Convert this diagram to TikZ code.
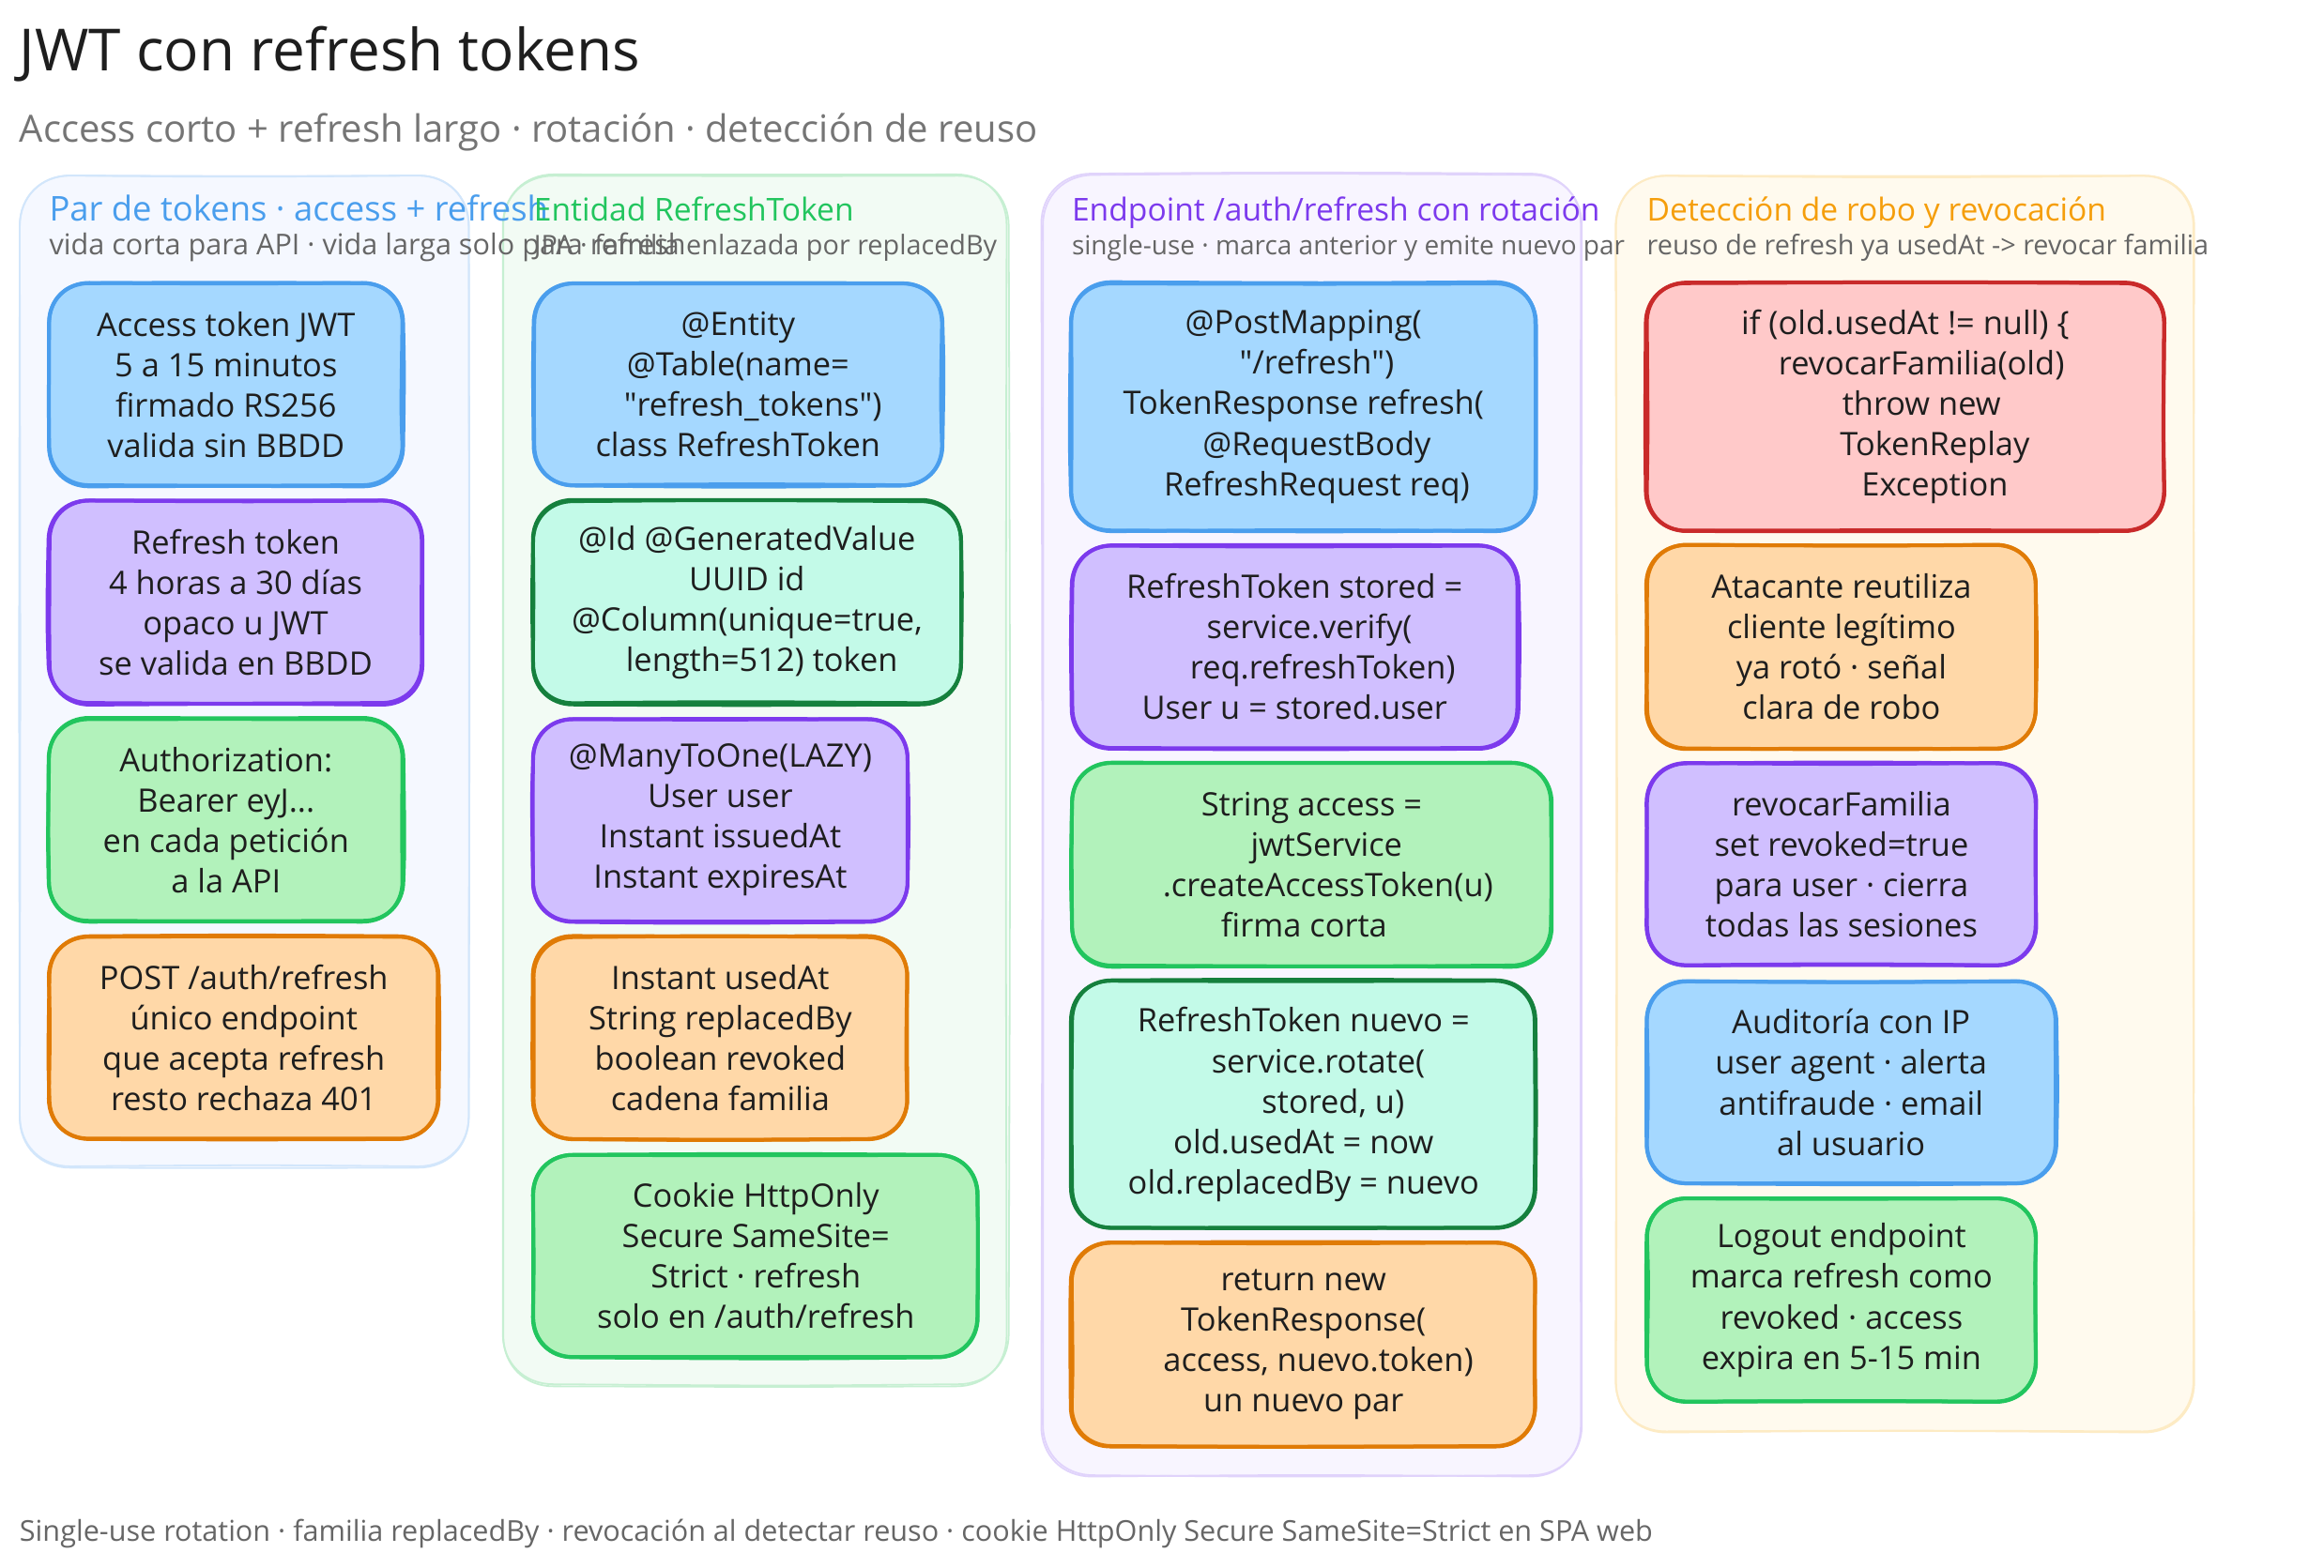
\documentclass[tikz,border=0pt]{standalone}
\usepackage{fontspec}
\setmainfont{Open Sans}
\newfontfamily\plainqf{Open Sans}
\newcommand\dq{{\plainqf"}}
\definecolor{bluef}{HTML}{A5D8FF}\definecolor{blues}{HTML}{4A9EED}
\definecolor{purpf}{HTML}{D0BFFF}\definecolor{purps}{HTML}{7C3AED}
\definecolor{greenf}{HTML}{B2F2BB}\definecolor{greens}{HTML}{22C55E}
\definecolor{orangef}{HTML}{FFD8A8}\definecolor{oranges}{HTML}{E07B06}
\definecolor{tealf}{HTML}{C3FAE8}\definecolor{teals}{HTML}{15803D}
\definecolor{redf}{HTML}{FFC9C9}\definecolor{reds}{HTML}{C92A2A}
\definecolor{ink}{HTML}{1E1E1E}\definecolor{subg}{HTML}{757575}\definecolor{noteg}{HTML}{666666}
\definecolor{p1f}{HTML}{F5F8FF}\definecolor{p1s}{HTML}{D2E6FB}
\definecolor{p2f}{HTML}{F2FBF4}\definecolor{p2s}{HTML}{C6EFD2}
\definecolor{p3f}{HTML}{F8F5FF}\definecolor{p3s}{HTML}{E0D3FB}
\definecolor{p4f}{HTML}{FFFAEE}\definecolor{p4s}{HTML}{FDEBC4}
\definecolor{amber}{HTML}{F59E0B}
\newcommand\roughstroke[6]{% x1 y1 x2 y2 r amp
  \pgfmathsetmacro\dxa{#6*rand}\pgfmathsetmacro\dya{#6*rand}%
  \pgfmathsetmacro\dxb{#6*rand}\pgfmathsetmacro\dyb{#6*rand}%
  \pgfmathsetmacro\xa{#1+\dxa}\pgfmathsetmacro\ya{#2+\dya}%
  \pgfmathsetmacro\xb{#3+\dxb}\pgfmathsetmacro\yb{#4+\dyb}%
  \pgfmathsetmacro\ctx{0.5*(#1+#3)+20*rand}\pgfmathsetmacro\cty{0.5*(#2+#4)+20*rand}%
  \pgfmathsetmacro\ba{#6*rand*1.6}\pgfmathsetmacro\bb{#6*rand*1.6}%
  \pgfmathsetmacro\bc{#6*rand*1.6}\pgfmathsetmacro\bd{#6*rand*1.6}%
  \draw (\xa+#5,\ya) .. controls (\ctx,\ya+\ba) .. (\xb-#5,\ya)
    .. controls (\xb-0.42*#5,\ya) and (\xb,\ya+0.42*#5) .. (\xb,\ya+#5)
    .. controls (\xb+\bb,\cty) .. (\xb,\yb-#5)
    .. controls (\xb,\yb-0.42*#5) and (\xb-0.42*#5,\yb) .. (\xb-#5,\yb)
    .. controls (\ctx,\yb+\bc) .. (\xa+#5,\yb)
    .. controls (\xa+0.42*#5,\yb) and (\xa,\yb-0.42*#5) .. (\xa,\yb-#5)
    .. controls (\xa+\bd,\cty) .. (\xa,\ya+#5)
    .. controls (\xa,\ya+0.42*#5) and (\xa+0.42*#5,\ya) .. (\xa+#5,\ya);
}
\newcommand\panelbg[6]{% x1 y1 x2 y2 fill stroke
  \path[fill=#5,rounded corners=27pt] (#1,#2) rectangle (#3,#4);
  \begin{scope}[draw=#6,line width=.9pt,line join=round]
    \roughstroke{#1}{#2}{#3}{#4}{34}{.9}
    \roughstroke{#1}{#2}{#3}{#4}{34}{.9}
  \end{scope}
}
\newcommand\card[8]{% name x1 y1 x2 y2 fill stroke text
  \path[fill=#6,rounded corners=21pt] (#2,#3) rectangle (#4,#5);
  \begin{scope}[draw=#7,line width=2pt,line join=round]
    \roughstroke{#2}{#3}{#4}{#5}{27}{.6}
    \roughstroke{#2}{#3}{#4}{#5}{27}{.6}
  \end{scope}
  \node[cardtext] (#1) at ({0.5*(#2+#4)},{0.5*(#3+#5)}) {#8};
}
\newcommand\ind[1]{\hspace*{\dimexpr #1pt*158/100\relax}}
\tikzset{
  x=0.78954pt,y=-0.78954pt,
  cardtext/.style={align=center,text=ink,inner sep=0pt,font=\fontsize{17.2}{21.55}\selectfont},
  headtitle/.style={anchor=base west,inner sep=0pt,text=ink,font=\fontsize{31}{36}\selectfont},
  headsub/.style={anchor=base west,inner sep=0pt,text=subg,font=\fontsize{20}{24}\selectfont},
  ptitle/.style={anchor=base west,inner sep=0pt,font=\fontsize{16.8}{20}\selectfont},
  psub/.style={anchor=base west,inner sep=0pt,text=noteg,font=\fontsize{14.4}{17}\selectfont},
  footnotetext/.style={anchor=base west,inner sep=0pt,text=noteg,font=\fontsize{15.3}{18}\selectfont},
}
\begin{document}
\begin{tikzpicture}
\pgfmathsetseed{4242}
\useasboundingbox (0,0) rectangle (1568.08,1058.26);
\path[fill=white] (0,0) rectangle (1568.08,1058.26);

\panelbg{13}{118}{316}{788}{p1f}{p1s}
\panelbg{340}{118}{680}{935}{p2f}{p2s}
\panelbg{703}{118}{1067}{996}{p3f}{p3s}
\panelbg{1090}{118}{1480}{966}{p4f}{p4s}

\node[headtitle] (title) at (13,48) {JWT con refresh tokens};
\node[headsub] (subtitle) at (13,96) {Access corto + refresh largo · rotación · detección de reuso};

\node[ptitle,text=blues,font=\fontsize{18.2}{20}\selectfont] (t1) at (33,149) {Par de tokens · access + refresh};
\node[psub,font=\fontsize{15.3}{17}\selectfont] (s1) at (33,172) {vida corta para API · vida larga solo para refresh};
\node[ptitle,text=greens] (t2) at (360,149) {Entidad RefreshToken};
\node[psub] (s2) at (360,172) {JPA · familia enlazada por replacedBy};
\node[ptitle,text=purps] (t3) at (723,149) {Endpoint /auth/refresh con rotación};
\node[psub,font=\fontsize{14}{17}\selectfont] (s3) at (723,172) {single-use · marca anterior y emite nuevo par};
\node[ptitle,text=amber] (t4) at (1111,149) {Detección de robo y revocación};
\node[psub] (s4) at (1111,172) {reuso de refresh ya usedAt -> revocar familia};

\card{a1}{33}{191}{272}{328}{bluef}{blues}{Access token JWT\\5 a 15 minutos\\firmado RS256\\valida sin BBDD}
\card{a2}{33}{338}{285}{475}{purpf}{purps}{Refresh token\\4 horas a 30 días\\opaco u JWT\\se valida en BBDD}
\card{a3}{33}{485}{272}{622}{greenf}{greens}{Authorization:\\Bearer eyJ...\\en cada petición\\a la API}
\card{a4}{33}{632}{296}{769}{orangef}{oranges}{POST /auth/refresh\\único endpoint\\que acepta refresh\\resto rechaza 401}

\card{b1}{360}{191}{636}{328}{bluef}{blues}{@Entity\\@Table(name=\\\ind{10}\dq refresh\_tokens\dq)\\class RefreshToken}
\card{b2}{360}{338}{648}{475}{tealf}{teals}{@Id @GeneratedValue\\UUID id\\@Column(unique=true,\\\ind{10}length=512) token}
\card{b3}{360}{485}{612}{622}{purpf}{purps}{@ManyToOne(LAZY)\\User user\\Instant issuedAt\\Instant expiresAt}
\card{b4}{360}{632}{612}{769}{orangef}{oranges}{Instant usedAt\\String replacedBy\\boolean revoked\\cadena familia}
\card{b5}{360}{779}{660}{916}{greenf}{greens}{Cookie HttpOnly\\Secure SameSite=\\Strict · refresh\\solo en /auth/refresh}

\card{c1}{723}{191}{1036}{358}{bluef}{blues}{@PostMapping(\\\ind{9}\dq/refresh\dq)\\TokenResponse refresh(\\\ind{9}@RequestBody\\\ind{9}RefreshRequest req)}
\card{c2}{723}{368}{1024}{505}{purpf}{purps}{RefreshToken stored =\\\ind{10}service.verify(\\\ind{19}req.refreshToken)\\User u = stored.user}
\card{c3}{723}{515}{1047}{652}{greenf}{greens}{String access =\\\ind{10}jwtService\\\ind{11}.createAccessToken(u)\\\hspace*{-8pt}firma corta}
\card{c4}{723}{662}{1036}{829}{tealf}{teals}{RefreshToken nuevo =\\\ind{10}service.rotate(\\\ind{20}stored, u)\\old.usedAt = now\\old.replacedBy = nuevo}
\card{c5}{723}{839}{1036}{976}{orangef}{oranges}{return new\\TokenResponse(\\\ind{10}access, nuevo.token)\\un nuevo par}

\card{d1}{1111}{191}{1460}{358}{redf}{reds}{if (old.usedAt != null) \{\\\ind{11}revocarFamilia(old)\\\ind{11}throw new\\\ind{20}TokenReplay\\\ind{20}Exception}
\card{d2}{1111}{368}{1374}{505}{orangef}{oranges}{Atacante reutiliza\\cliente legítimo\\ya rotó · señal\\clara de robo}
\card{d3}{1111}{515}{1374}{652}{purpf}{purps}{revocarFamilia\\set revoked=true\\para user · cierra\\todas las sesiones}
\card{d4}{1111}{662}{1387}{799}{bluef}{blues}{Auditoría con IP\\user agent · alerta\\antifraude · email\\al usuario}
\card{d5}{1111}{809}{1374}{946}{greenf}{greens}{Logout endpoint\\marca refresh como\\revoked · access\\expira en 5-15 min}

\node[footnotetext] (foot) at (13,1040) {Single-use rotation · familia replacedBy · revocación al detectar reuso · cookie HttpOnly Secure SameSite=Strict en SPA web};
\end{tikzpicture}
\end{document}
